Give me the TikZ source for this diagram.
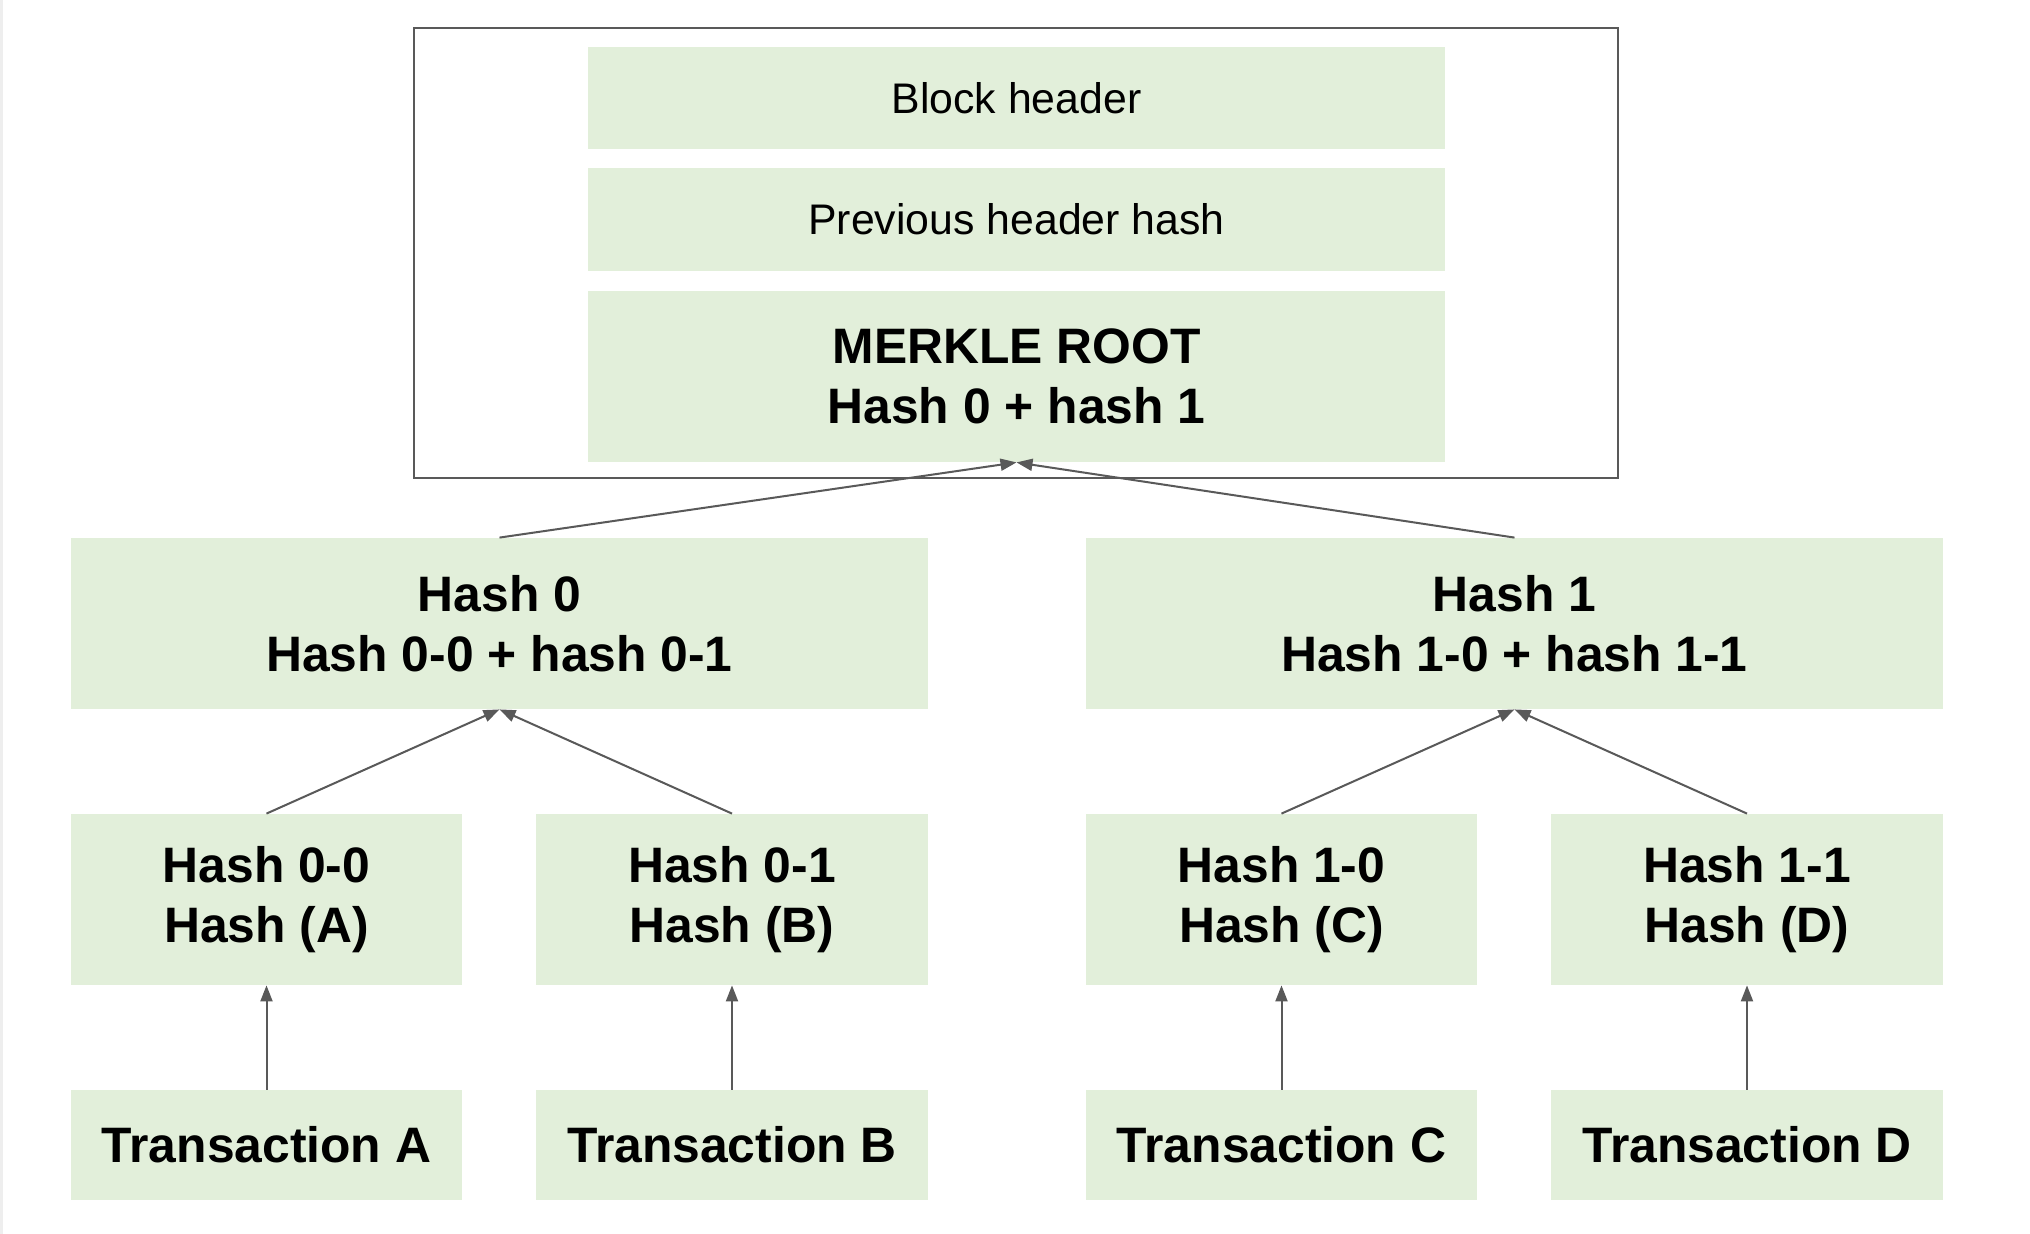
\documentclass[tikz,border=0pt]{standalone}
\usepackage{fontspec}
\setmainfont{Liberation Sans}
\usetikzlibrary{arrows.meta}
\definecolor{boxgreen}{HTML}{E2EFDA}
\definecolor{linegray}{HTML}{595959}
\definecolor{stripgray}{HTML}{EEEEEE}
\begin{document}
\begin{tikzpicture}[x=0.5pt,y=-0.5pt,
  greenbox/.style={fill=boxgreen,draw=none,inner sep=0pt,align=center,minimum width=428.5pt},
  bigtext/.style={font=\fontsize{24.9}{29.75}\selectfont\bfseries},
  smalltext/.style={font=\fontsize{21.4}{25}\selectfont},
  leafbox/.style={greenbox,minimum width=195.75pt,minimum height=85.5pt,bigtext},
  txbox/.style={greenbox,minimum width=195.75pt,minimum height=55pt,bigtext},
  conn/.style={draw=linegray,line width=1pt,-{Triangle[length=8pt,width=6pt]}}]
\fill[white] (0,0) rectangle (2030,1234);
\useasboundingbox (0,0) rectangle (2030,1234);
\fill[stripgray] (0,0) rectangle (3,1234);
% block
\node[draw=linegray,line width=1pt,inner sep=0pt,minimum width=602pt,minimum height=224.75pt] (block) at (1016,253.25) {};
\node[greenbox,minimum height=51pt,smalltext] (bh) at (1016.5,98) {Block header};
\node[greenbox,minimum height=51.5pt,smalltext] (ph) at (1016.5,219.5) {Previous header hash};
\node[greenbox,minimum height=85.5pt,bigtext] (mr) at (1016.5,376.5) {MERKLE ROOT\\Hash 0 + hash 1};
% level 2
\node[greenbox,minimum height=85.5pt,bigtext] (h0) at (499.5,623.5) {Hash 0\\Hash 0-0 + hash 0-1};
\node[greenbox,minimum height=85.5pt,bigtext] (h1) at (1514.5,623.5) {Hash 1\\Hash 1-0 + hash 1-1};
% level 3
\node[leafbox] (h00) at (266.5,899.5) {Hash 0-0\\Hash (A)};
\node[leafbox] (h01) at (732,899.5) {Hash 0-1\\Hash (B)};
\node[leafbox] (h10) at (1281.5,899.5) {Hash 1-0\\Hash (C)};
\node[leafbox] (h11) at (1747,899.5) {Hash 1-1\\Hash (D)};
% transactions
\node[txbox] (ta) at (266.5,1145) {Transaction A};
\node[txbox] (tb) at (732,1145) {Transaction B};
\node[txbox] (tc) at (1281.5,1145) {Transaction C};
\node[txbox] (td) at (1747,1145) {Transaction D};
% connectors
\draw[conn] (h0.north) -- (mr.south);
\draw[conn] (h1.north) -- (mr.south);
\draw[conn] (h00.north) -- (h0.south);
\draw[conn] (h01.north) -- (h0.south);
\draw[conn] (h10.north) -- (h1.south);
\draw[conn] (h11.north) -- (h1.south);
\draw[conn] (ta.north) -- (h00.south);
\draw[conn] (tb.north) -- (h01.south);
\draw[conn] (tc.north) -- (h10.south);
\draw[conn] (td.north) -- (h11.south);
\end{tikzpicture}
\end{document}
